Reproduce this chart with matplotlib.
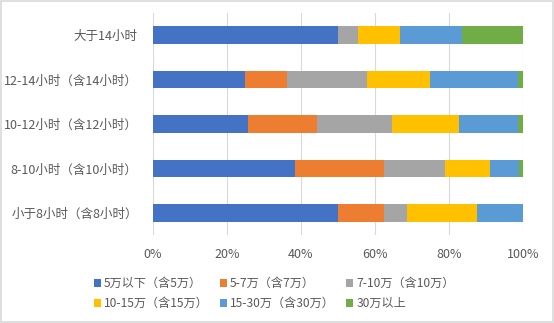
import matplotlib
matplotlib.use("Agg")
import matplotlib.pyplot as plt
import numpy as np
from matplotlib.patches import Rectangle

plt.rcParams['font.family'] = ['Noto Sans CJK SC', 'DejaVu Sans']

categories = ['小于8小时（含8小时）', '8-10小时（含10小时）', '10-12小时（含12小时）',
              '12-14小时（含14小时）', '大于14小时']
series_names = ['5万以下（含5万）', '5-7万（含7万）', '7-10万（含10万）',
                '10-15万（含15万）', '15-30万（含30万）', '30万以上']
s_lt5 = [50.1, 38.5, 25.8, 24.9, 50.1]
s_5_7 = [12.4, 23.8, 18.6, 11.4, 0.0]
s_7_10 = [6.1, 16.5, 20.1, 21.5, 5.2]
s_10_15 = [19.1, 12.4, 18.2, 17.1, 11.5]
s_15_30 = [12.3, 7.6, 16.0, 23.8, 16.6]
s_gt30 = [0.0, 1.2, 1.3, 1.3, 16.6]
colors = ['#4472C4', '#ED7D31', '#A5A5A5', '#FFC000', '#5B9BD5', '#70AD47']
xticks = [0, 20, 40, 60, 80, 100]
xticklabels = ['0%', '20%', '40%', '60%', '80%', '100%']

series = [s_lt5, s_5_7, s_7_10, s_10_15, s_15_30, s_gt30]

fig = plt.figure(figsize=(5.54, 3.23), dpi=100)
ax = fig.add_axes([153/554, 88/323, 370/554, 222/323])

y = np.arange(len(categories))
left = np.zeros(len(categories))
handles = []
for name, vals, c in zip(series_names, series, colors):
    vals = np.array(vals, dtype=float)
    b = ax.barh(y, vals, left=left, height=0.40, color=c, label=name, zorder=3)
    handles.append(b)
    left += vals

ax.set_xlim(0, 100)
ax.set_ylim(-0.5, len(categories) - 0.5)
ax.set_yticks(y)
ax.set_yticklabels(categories)
ax.set_xticks(xticks)
ax.set_xticklabels(xticklabels)
ax.tick_params(axis='y', length=0, pad=11, labelsize=9, labelcolor='#595959')
ax.tick_params(axis='x', length=0, pad=9, labelsize=9, labelcolor='#595959')
ax.grid(axis='x', color='#D9D9D9', linewidth=0.8, zorder=0)
for s in ax.spines.values():
    s.set_visible(False)

order = [0, 3, 1, 4, 2, 5]
leg = fig.legend([handles[i] for i in order], [series_names[i] for i in order],
                 loc='center', bbox_to_anchor=(0.495, 0.091), ncol=3, frameon=False,
                 fontsize=8.7, handlelength=0.6, handleheight=0.6, handletextpad=0.25,
                 columnspacing=0.9, labelspacing=0.6, labelcolor='#595959')

fig.patches.append(Rectangle((0.001, 0.002), 0.997, 0.996, transform=fig.transFigure,
                             fill=False, edgecolor='#D9D9D9', linewidth=1.2))

fig.savefig('out.png', dpi=100)
